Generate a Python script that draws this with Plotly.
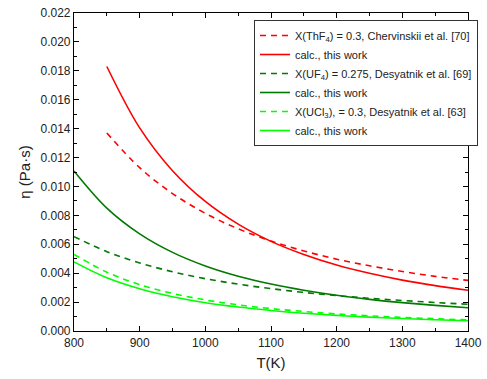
import plotly.graph_objects as go

T_full = [800, 850, 900, 950, 1000, 1050, 1100, 1150, 1200, 1250, 1300, 1350, 1400]
T_th = [850, 900, 950, 1000, 1050, 1100, 1150, 1200, 1250, 1300, 1350, 1400]

thf4_exp = [0.0137, 0.01130, 0.00951, 0.00814, 0.00707, 0.00622, 0.00554, 0.00497, 0.00451, 0.00412, 0.00378, 0.00350]
thf4_calc = [0.0183, 0.01405, 0.01109, 0.00896, 0.00739, 0.00620, 0.00529, 0.00456, 0.00399, 0.00352, 0.00314, 0.00282]
uf4_exp = [0.00653, 0.00549, 0.00471, 0.00410, 0.00362, 0.00324, 0.00293, 0.00267, 0.00245, 0.00226, 0.00211, 0.00197, 0.00185]
uf4_calc = [0.01107, 0.00850, 0.00672, 0.00544, 0.00450, 0.00379, 0.00325, 0.00282, 0.00247, 0.00219, 0.00196, 0.00177, 0.00161]
ucl3_exp = [0.0053, 0.00407, 0.00321, 0.00260, 0.00215, 0.00181, 0.00155, 0.00135, 0.00118, 0.00105, 0.00094, 0.00085, 0.00077]
ucl3_calc = [0.00478, 0.00368, 0.00292, 0.00237, 0.00196, 0.00166, 0.00142, 0.00123, 0.00108, 0.00096, 0.00086, 0.00078, 0.00071]

names = [
    "X(ThF<sub>4</sub>) = 0.3, Chervinskii et al. [70]",
    "calc., this work",
    "X(UF<sub>4</sub>) = 0.275, Desyatnik et al. [69]",
    "calc., this work",
    "X(UCl<sub>3</sub>), = 0.3, Desyatnik et al. [63]",
    "calc., this work",
]

series = [
    (T_th, thf4_exp, "#ff0000", "6px,5px"),
    (T_th, thf4_calc, "#ff0000", "solid"),
    (T_full, uf4_exp, "#007a00", "6px,5px"),
    (T_full, uf4_calc, "#007a00", "solid"),
    (T_full, ucl3_exp, "#00ff00", "6px,5px"),
    (T_full, ucl3_calc, "#00ff00", "solid"),
]

fig = go.Figure()
for (x, y, c, d), n in zip(series, names):
    fig.add_trace(go.Scatter(x=x, y=y, mode="lines", name=n,
                             line=dict(color=c, width=1.6, dash=d, shape="spline")))

axis_common = dict(
    showline=True, linecolor="black", linewidth=1.2, mirror="ticks",
    ticks="inside", ticklen=5, tickwidth=1, tickcolor="black",
    showgrid=False, zeroline=False,
    tickfont=dict(family="Liberation Sans, Arial", size=12, color="#222"),
)

fig.update_xaxes(range=[800, 1400], dtick=100, tick0=800,
                 minor=dict(dtick=50, ticks="inside", ticklen=3, tickcolor="black"),
                 title=dict(text="T(K)", font=dict(family="Liberation Sans, Arial", size=15, color="#222"), standoff=8),
                 **axis_common)
fig.update_yaxes(range=[0, 0.022], dtick=0.002, tick0=0, tickformat=".3f",
                 minor=dict(dtick=0.001, ticks="inside", ticklen=3, tickcolor="black"),
                 title=dict(text="η (Pa·s)", font=dict(family="Liberation Sans, Arial", size=15, color="#222"), standoff=6),
                 **axis_common)

fig.update_layout(
    width=487, height=379,
    margin=dict(l=74, r=19, t=13, b=48, autoexpand=False),
    plot_bgcolor="white", paper_bgcolor="white",
    legend=dict(xref="container", yref="container", x=478/487, y=1 - 20/379,
                xanchor="right", yanchor="top",
                bgcolor="white", bordercolor="#333", borderwidth=1,
                font=dict(family="Liberation Sans, Arial", size=11, color="#222"),
                itemwidth=30, tracegroupgap=0),
)

fig.write_html("out.html", config={"displayModeBar": False},
               post_script="document.body.style.margin='0';document.body.style.overflow='hidden';")
